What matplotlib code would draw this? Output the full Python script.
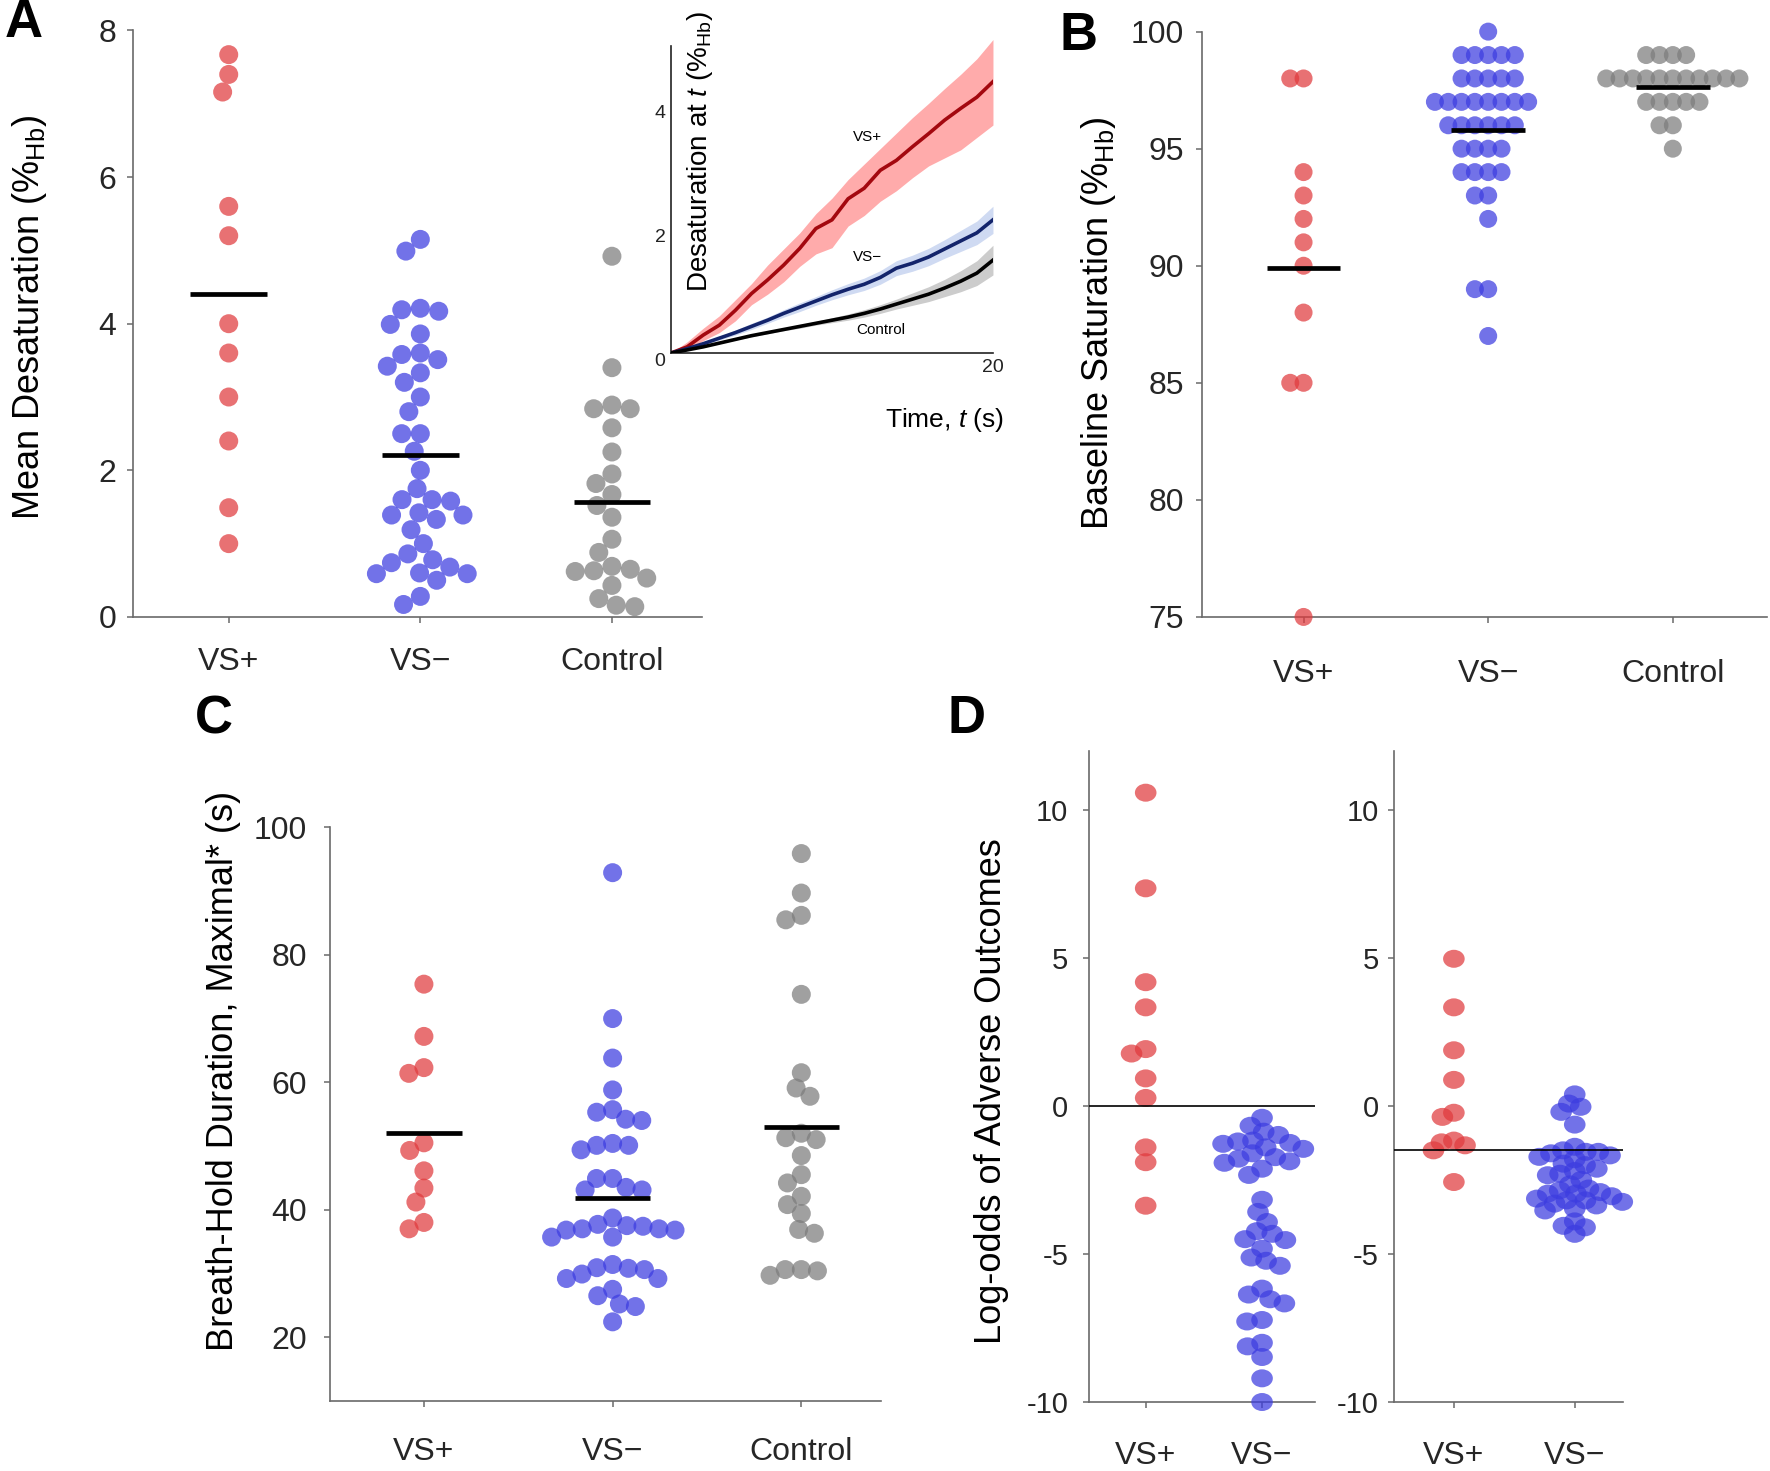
import matplotlib.pyplot as plt
import numpy as np
from matplotlib.markers import MarkerStyle
from matplotlib.transforms import Affine2D

plt.rcParams['font.family'] = ['Liberation Sans', 'DejaVu Sans']
plt.rcParams['mathtext.fontset'] = 'custom'
plt.rcParams['mathtext.rm'] = 'Liberation Sans'
plt.rcParams['mathtext.it'] = 'Liberation Sans:italic'
plt.rcParams['axes.unicode_minus'] = False

groups = ['VS+', 'VS\u2212', 'Control']

# Panel A: mean desaturation (%Hb)
desat_vs_pos = [7.67, 7.40, 7.16, 5.60, 5.20, 4.00, 3.60, 3.00, 2.40, 1.49, 1.00]
desat_vs_neg = [5.15, 4.99, 4.19, 4.21, 4.17, 3.99, 3.86, 3.51, 3.60, 3.58, 3.42, 3.33,
                3.20, 3.00, 2.80, 2.50, 2.50, 2.26, 2.00, 1.75, 1.60, 1.60, 1.58, 1.33,
                1.39, 1.42, 1.39, 1.19, 1.00, 0.86, 0.78, 0.74, 0.68, 0.60, 0.59, 0.59,
                0.50, 0.28, 0.17]
desat_control = [4.92, 3.40, 2.84, 2.89, 2.84, 2.58, 2.25, 1.95, 1.82, 1.67, 1.52, 1.36,
                 1.06, 0.88, 0.69, 0.62, 0.63, 0.65, 0.53, 0.43, 0.25, 0.14, 0.16]

# Inset: desaturation time course
time_s = list(range(21))
curve_vs_pos = [0, 0.10, 0.29, 0.45, 0.69, 0.96, 1.18, 1.42, 1.69, 2.01, 2.15, 2.49, 2.66,
                2.95, 3.11, 3.33, 3.54, 3.76, 3.95, 4.13, 4.38]
curve_vs_pos_hi = [0, 0.18, 0.40, 0.60, 0.86, 1.12, 1.42, 1.68, 1.94, 2.25, 2.50, 2.80, 3.05,
                   3.30, 3.55, 3.80, 4.03, 4.27, 4.50, 4.75, 5.06]
curve_vs_pos_lo = [0, 0.05, 0.20, 0.33, 0.52, 0.78, 0.95, 1.15, 1.40, 1.60, 1.70, 2.05, 2.22,
                   2.45, 2.62, 2.83, 3.02, 3.15, 3.28, 3.48, 3.68]
curve_vs_neg = [0, 0.07, 0.15, 0.24, 0.33, 0.43, 0.53, 0.64, 0.74, 0.84, 0.94, 1.03, 1.11,
                1.22, 1.37, 1.45, 1.55, 1.68, 1.81, 1.94, 2.15]
curve_vs_neg_se = [0, 0.01, 0.02, 0.03, 0.04, 0.05, 0.05, 0.06, 0.07, 0.07, 0.08, 0.09, 0.10,
                   0.11, 0.12, 0.13, 0.14, 0.15, 0.17, 0.19, 0.22]
curve_control = [0, 0.05, 0.10, 0.16, 0.22, 0.28, 0.33, 0.38, 0.43, 0.48, 0.53, 0.58, 0.64,
                 0.71, 0.79, 0.87, 0.95, 1.05, 1.16, 1.29, 1.50]
curve_control_se = [0, 0, 0.01, 0.01, 0.01, 0.02, 0.02, 0.02, 0.03, 0.03, 0.04, 0.05, 0.06,
                    0.07, 0.08, 0.10, 0.12, 0.14, 0.17, 0.20, 0.24]

# Panel B: baseline saturation (%Hb)
sat_vs_pos = [98, 98, 94, 93, 92, 91, 90, 88, 85, 85, 75]
sat_vs_neg = [100] + [99] * 5 + [98] * 5 + [97] * 8 + [96] * 6 + [95] * 4 + [94] * 4 \
    + [93] * 2 + [92] + [89] * 2 + [87]
sat_control = [99] * 4 + [98] * 11 + [97] * 5 + [96] * 2 + [95]

# Panel C: maximal breath-hold duration (s)
bh_vs_pos = [75.4, 67.2, 62.3, 61.4, 50.5, 49.3, 46.1, 43.4, 41.2, 38.0, 37.0]
bh_vs_neg = [92.9, 70.0, 63.8, 58.8, 55.7, 55.3, 54.0, 54.2, 49.4, 50.1, 50.1, 50.4, 44.9,
             44.9, 43.5, 43.1, 43.1, 38.7, 37.7, 37.5, 36.8, 37.0, 36.8, 37.0, 37.4, 35.7,
             35.7, 31.4, 30.8, 30.9, 30.6, 29.9, 29.2, 29.2, 27.5, 26.5, 25.2, 24.8, 22.4]
bh_control = [95.9, 89.7, 86.2, 85.5, 73.8, 61.5, 59.1, 57.8, 51.3, 52.0, 51.0, 48.5, 45.5,
              44.2, 42.1, 40.8, 39.4, 36.9, 36.3, 30.6, 29.7, 30.4, 30.6]

# Panel D: log-odds of adverse outcomes (two models)
lo1_vs_pos = [10.58, 7.35, 4.18, 3.33, 1.92, 1.77, 0.93, 0.27, -1.4, -1.9, -3.37]
lo1_vs_neg = [-0.4, -0.67, -0.87, -0.98, -1.17, -1.2, -1.28, -1.25, -1.45, -1.4, -1.6, -1.73,
              -1.78, -1.87, -1.92, -2.12, -2.33, -3.17, -3.58, -3.92, -4.23, -4.32, -4.53,
              -4.5, -4.82, -5.12, -5.23, -5.4, -6.17, -6.37, -6.53, -6.67, -7.23, -7.28,
              -8.0, -8.12, -8.48, -9.2, -10.0]
lo1_ref = 0.0
lo2_vs_pos = [4.97, 3.33, 1.88, 0.88, -0.23, -0.37, -1.17, -1.23, -1.33, -1.5, -2.57]
lo2_vs_neg = [0.39, -0.03, 0.08, -0.2, -0.63, -1.72, -1.55, -1.55, -1.50, -1.38, -1.67, -1.6,
              -1.8, -2.0, -1.95, -2.12, -2.2, -2.29, -2.34, -2.5, -2.65, -2.96, -2.85, -2.79,
              -2.91, -2.96, -3.05, -3.19, -3.24, -3.19, -3.13, -3.36, -3.3, -3.53, -3.47,
              -3.9, -4.05, -4.1, -4.32]
lo2_ref = -1.5

RED = '#e03a3d'
BLUE = '#3c3ce0'
GRAY = '#7c7c7c'
SPINE = '#6a6a6a'
TEXT = '#262626'

W, H, DPI = 1770, 1471, 100
fig = plt.figure(figsize=(W / DPI, H / DPI), dpi=DPI)


def style(ax, tick_size=23, xpad=18, ypad=9):
    ax.spines[['top', 'right']].set_visible(False)
    for s in ['left', 'bottom']:
        ax.spines[s].set_color(SPINE)
        ax.spines[s].set_linewidth(1.2)
    ax.tick_params(colors=SPINE, labelcolor=TEXT, length=4, width=1.1,
                   labelsize=tick_size)
    ax.tick_params(axis='x', pad=xpad)
    ax.tick_params(axis='y', pad=ypad)


def swarm(ax, vals, diam_px, aspect=1.0, f=0.8):
    """Simple beeswarm: offsets in data units so dots overlap at most (1-f)."""
    x0, x1 = ax.get_xlim()
    y0, y1 = ax.get_ylim()
    bb = ax.get_position()
    px_x = bb.width * W / (x1 - x0)
    px_y = bb.height * H / (y1 - y0)
    ys = np.asarray(vals, float) * px_y / diam_px
    xs = np.zeros(len(ys))
    placed = []
    for i in np.argsort(-ys, kind='stable'):
        y = ys[i]
        cands = [0.0]
        for px, py in placed:
            dy = abs(py - y)
            if dy < f:
                dx = np.sqrt(f ** 2 - dy ** 2)
                cands += [px + dx, px - dx]
        cands.sort(key=lambda c: (round(abs(c), 6), c))
        for c in cands:
            if all((c - px) ** 2 + (y - py) ** 2 >= f ** 2 - 1e-6 for px, py in placed):
                break
        placed.append((c, y))
        xs[i] = c
    return xs * diam_px * aspect / px_x


def dots(ax, series, colors, diam_px=19, aspect=1.0, means=True, f=0.8):
    mk = MarkerStyle('o', transform=Affine2D().scale(aspect, 1.0))
    s = (diam_px * 72 / DPI) ** 2
    for i, (vals, c) in enumerate(zip(series, colors)):
        offs = swarm(ax, vals, diam_px, aspect, f)
        ax.scatter(i + offs, vals, s=s, color=c, alpha=0.72, edgecolors='none',
                   marker=mk, zorder=3, clip_on=False)
        if means:
            ax.hlines(np.mean(vals), i - 0.2, i + 0.2, color='black', lw=3.4, zorder=4)


def ylabel(ax, text, x, y, size=26):
    ax.set_ylabel(text, fontsize=size, color='black')
    ax.yaxis.set_label_coords(x, y)
    ax.yaxis.label.set_va('center')


# ---------- Panel A ----------
axA = fig.add_axes([0.0751, 0.5806, 0.3215, 0.3987])
axA.set_xlim(-0.5, 2.47)
axA.set_ylim(0, 8)
style(axA, xpad=18, ypad=8)
axA.set_yticks([0, 2, 4, 6, 8])
axA.set_xticks(range(3), groups)
dots(axA, [desat_vs_pos, desat_vs_neg, desat_control], [RED, BLUE, GRAY], f=0.98)
ylabel(axA, 'Mean Desaturation (%$_{\\mathrm{Hb}}$)', -0.181, 0.51)

# ---------- Inset ----------
axI = fig.add_axes([0.3791, 0.7600, 0.1819, 0.2148])
axI.set_xlim(0, 20)
axI.set_ylim(0, 5.1)
axI.spines[['top', 'right']].set_visible(False)
axI.spines['left'].set_bounds(0, 4.95)
for s in ['left', 'bottom']:
    axI.spines[s].set_color('#222222')
    axI.spines[s].set_linewidth(1.2)
axI.set_facecolor('none')
axI.tick_params(length=0, labelsize=14, colors='#222222', pad=4)
axI.set_yticks([0, 2, 4])
axI.set_xticks([20])
for lab in axI.get_yticklabels():
    lab.set_va('top')
ctl_se = np.array(curve_control_se)
neg_se = np.array(curve_vs_neg_se)
axI.fill_between(time_s, curve_vs_pos_lo, curve_vs_pos_hi, color='#ffabab', lw=0,
                 clip_on=False, zorder=1)
axI.fill_between(time_s, np.array(curve_vs_neg) - neg_se, np.array(curve_vs_neg) + neg_se,
                 color='#cfdaf2', lw=0, zorder=1)
axI.fill_between(time_s, np.array(curve_control) - ctl_se, np.array(curve_control) + ctl_se,
                 color='#cccccc', lw=0, zorder=1)
axI.plot(time_s, curve_vs_pos, color='#a3080f', lw=2.6, zorder=3)
axI.plot(time_s, curve_vs_neg, color='#13246b', lw=2.6, zorder=3)
axI.plot(time_s, curve_control, color='black', lw=2.6, zorder=3)
axI.text(12.2, 3.48, 'VS+', fontsize=11, ha='center', va='center')
axI.text(12.2, 1.55, 'VS\u2212', fontsize=11, ha='center', va='center')
axI.text(13.0, 0.37, 'Control', fontsize=11, ha='center', va='center')
axI.set_ylabel('Desaturation at $t$ (%$_{\\mathrm{Hb}}$)', fontsize=20)
axI.yaxis.set_label_coords(0.09, 0.636)
axI.yaxis.label.set_va('center')
axI.set_xlabel('Time, $t$ (s)', fontsize=19)
axI.xaxis.set_label_coords(0.851, -0.212)
axI.xaxis.label.set_va('center')

# ---------- Panel B ----------
axB = fig.add_axes([0.6791, 0.5806, 0.3192, 0.3979])
axB.set_xlim(-0.55, 2.51)
axB.set_ylim(75, 100)
style(axB, xpad=26, ypad=9)
axB.set_yticks([75, 80, 85, 90, 95, 100])
axB.set_xticks(range(3), groups)
dots(axB, [sat_vs_pos, sat_vs_neg, sat_control], [RED, BLUE, GRAY], diam_px=18, f=0.74)
ylabel(axB, 'Baseline Saturation (%$_{\\mathrm{Hb}}$)', -0.184, 0.502)

# ---------- Panel C ----------
axC = fig.add_axes([0.1862, 0.0477, 0.3113, 0.3898])
axC.set_xlim(-0.5, 2.42)
axC.set_ylim(10, 100)
style(axC, xpad=22, ypad=12)
axC.set_yticks([20, 40, 60, 80, 100])
axC.set_xticks(range(3), groups)
dots(axC, [bh_vs_pos, bh_vs_neg, bh_control], [RED, BLUE, GRAY], f=0.85)
ylabel(axC, 'Breath-Hold Duration, Maximal* (s)', -0.193, 0.575)

# ---------- Panel D ----------
axD1 = fig.add_axes([0.6154, 0.0469, 0.1276, 0.4428])
axD2 = fig.add_axes([0.7876, 0.0469, 0.1294, 0.4428])
for ax, xl, pos, neg, ref, ypad, f in [
        (axD1, (-0.485, 1.456), lo1_vs_pos, lo1_vs_neg, lo1_ref, 11, 0.7),
        (axD2, (-0.495, 1.40), lo2_vs_pos, lo2_vs_neg, lo2_ref, 7, 0.58)]:
    ax.set_xlim(*xl)
    ax.set_ylim(-10, 12)
    style(ax, tick_size=21, xpad=24, ypad=ypad)
    ax.tick_params(axis='x', labelsize=23)
    ax.set_yticks([-10, -5, 0, 5, 10])
    ax.set_xticks(range(2), groups[:2])
    dots(ax, [pos, neg], [RED, BLUE], diam_px=18, aspect=1.2, means=False, f=f)
    ax.axhline(ref, color='black', lw=1.2, zorder=5)
ylabel(axD1, 'Log-odds of Adverse Outcomes', -0.435, 0.477)

# ---------- Panel letters ----------
for letter, x, y in [('A', 0.0136, 0.9844), ('B', 0.6096, 0.9755),
                     ('C', 0.1209, 0.5112), ('D', 0.5463, 0.5112)]:
    fig.text(x, y, letter, fontsize=38, fontweight='bold', ha='center', va='center')

fig.savefig('out.png', dpi=DPI)
